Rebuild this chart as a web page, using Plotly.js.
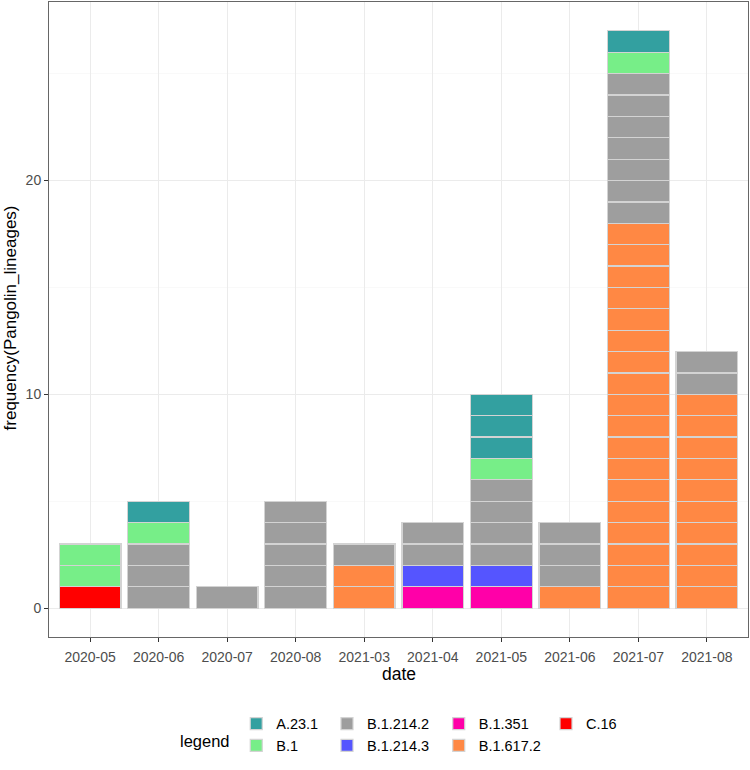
<!DOCTYPE html>
<html>
<head>
<meta charset="utf-8">
<script src="https://cdn.plot.ly/plotly-3.0.1.min.js"></script>
<style>
  html, body { margin: 0; padding: 0; background: #fff; }
  #chart { width: 750px; height: 770px; }
</style>
</head>
<body>
<div id="chart"></div>
<script>
  // months on the x axis
  const dates = ['2020-05', '2020-06', '2020-07', '2020-08', '2021-03',
    '2021-04', '2021-05', '2021-06', '2021-07', '2021-08'];

  // counts per lineage, one value per month
  const cC16 = [1, 0, 0, 0, 0, 0, 0, 0, 0, 0];
  const cB16172 = [0, 0, 0, 0, 2, 0, 0, 1, 18, 10];
  const cB1351 = [0, 0, 0, 0, 0, 1, 1, 0, 0, 0];
  const cB12143 = [0, 0, 0, 0, 0, 1, 1, 0, 0, 0];
  const cB12142 = [0, 3, 1, 5, 1, 2, 4, 3, 7, 2];
  const cB1 = [2, 1, 0, 0, 0, 0, 1, 0, 1, 0];
  const cA231 = [0, 1, 0, 0, 0, 0, 3, 0, 1, 0];

  const yTicks = [0, 10, 20];

  // stacked bottom -> top; legend column / rank for the ggplot-like key
  const lineages = [
    { name: 'C.16', counts: cC16, color: '#FF0000', legend: 'legend4', rank: 7 },
    { name: 'B.1.617.2', counts: cB16172, color: '#FF8844', legend: 'legend3', rank: 6 },
    { name: 'B.1.351', counts: cB1351, color: '#FF00A8', legend: 'legend3', rank: 5 },
    { name: 'B.1.214.3', counts: cB12143, color: '#5555FF', legend: 'legend2', rank: 4 },
    { name: 'B.1.214.2', counts: cB12142, color: '#9E9E9E', legend: 'legend2', rank: 3 },
    { name: 'B.1', counts: cB1, color: '#77EE88', legend: 'legend', rank: 2 },
    { name: 'A.23.1', counts: cA231, color: '#33A0A0', legend: 'legend', rank: 1 },
  ];

  // one trace per unit so every sample gets its own outlined block
  const traces = [];
  lineages.forEach((lin) => {
    const most = Math.max(...lin.counts);
    for (let k = 1; k <= most; k++) {
      traces.push({
        type: 'bar',
        x: dates,
        y: lin.counts.map((c) => (c >= k ? 1 : null)),
        name: lin.name,
        legendgroup: lin.name,
        legend: lin.legend,
        legendrank: lin.rank,
        showlegend: k === 1,
        marker: { color: lin.color, line: { color: '#D3D3D3', width: 1.2 } },
        hovertemplate: `${lin.name} %{x}<extra></extra>`,
      });
    }
  });

  const font = { family: '"Liberation Sans", Arial, sans-serif', size: 12, color: '#000' };
  const tickFont = { ...font, size: 14, color: '#4D4D4D' };
  const legBase = {
    xref: 'container', yref: 'container', yanchor: 'top', xanchor: 'left',
    y: 0.081, orientation: 'v', traceorder: 'normal', tracegroupgap: 0,
    bgcolor: 'rgba(0,0,0,0)', font: { ...font, size: 14.5 }, itemwidth: 30,
  };

  const layout = {
    width: 750,
    height: 770,
    font,
    paper_bgcolor: '#fff',
    plot_bgcolor: '#fff',
    barmode: 'stack',
    bargap: 0.1,
    margin: { l: 49, r: 2, t: 2, b: 133, autoexpand: false },
    xaxis: {
      type: 'category',
      range: [-0.6, 9.6],
      showgrid: true,
      gridcolor: '#EBEBEB',
      gridwidth: 1,
      ticks: 'outside',
      ticklen: 4,
      tickcolor: '#333',
      tickfont: tickFont,
      ticklabelstandoff: 3,
      showline: true,
      mirror: true,
      linecolor: '#666',
      linewidth: 1,
      fixedrange: true,
    },
    yaxis: {
      range: [-1.35, 28.35],
      tickvals: yTicks,
      ticktext: yTicks.map(String),
      showgrid: true,
      gridcolor: '#EBEBEB',
      gridwidth: 1,
      minor: { dtick: 5, tick0: 0, showgrid: true, gridcolor: '#F5F5F5', gridwidth: 0.6, ticks: '' },
      zeroline: false,
      ticks: 'outside',
      ticklen: 4,
      tickcolor: '#333',
      tickfont: tickFont,
      showline: true,
      mirror: true,
      linecolor: '#666',
      linewidth: 1,
      fixedrange: true,
    },
    legend: { ...legBase, x: 0.315 },
    legend2: { ...legBase, x: 0.436 },
    legend3: { ...legBase, x: 0.585 },
    legend4: { ...legBase, x: 0.728 },
    annotations: [
      {
        xref: 'paper', yref: 'paper', x: 0.5, y: -0.058,
        xanchor: 'center', yanchor: 'middle', showarrow: false,
        text: 'date', font: { ...font, size: 17.5 },
      },
      {
        xref: 'paper', yref: 'paper', x: -0.0555, y: 0.502,
        xanchor: 'center', yanchor: 'middle', showarrow: false, textangle: -90,
        text: 'frequency(Pangolin_lineages)', font: { ...font, size: 17 },
      },
      {
        xref: 'paper', yref: 'paper', x: 0.262, y: -0.164,
        xanchor: 'right', yanchor: 'middle', showarrow: false,
        text: 'legend', font: { ...font, size: 16.5 },
      },
    ],
  };

  Plotly.newPlot('chart', traces, layout, { displayModeBar: false, staticPlot: true });
</script>
</body>
</html>
